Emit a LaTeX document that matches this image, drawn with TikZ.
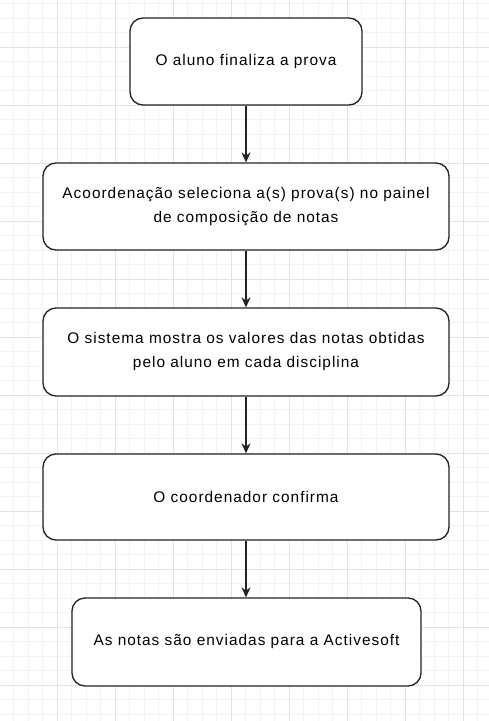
\documentclass[tikz,border=0pt]{standalone}
\usepackage{fontspec}
\setmainfont{Liberation Sans}[LetterSpace=6.5]
\usetikzlibrary{arrows.meta}
\definecolor{minorg}{HTML}{F3F3F3}
\definecolor{majorg}{HTML}{E3E3E3}
\definecolor{strokec}{HTML}{222222}
\tikzset{
  minorgrid/.style={draw=minorg, line width=0.8pt},
  majorgrid/.style={draw=majorg, line width=0.9pt},
  flowbox/.style={draw=strokec, line width=1.3pt, rounded corners=13pt, fill=white,
    align=center, inner sep=0pt, font={\fontsize{15.4}{24}\selectfont}},
  flowarrow/.style={draw=strokec, line width=1.3pt, -{Stealth[length=10pt,width=9pt]}}
}
\begin{document}
\begin{tikzpicture}[x=1pt,y=-1pt]
\useasboundingbox (0,0) rectangle (489,721);
\fill[white] (0,0) rectangle (489,721);
% grid
\foreach \i in {0,...,34} {
  \draw[minorgrid] ({-0.7+14.5*\i},0) -- ({-0.7+14.5*\i},721);
}
\foreach \i in {0,...,50} {
  \draw[minorgrid] (0,{3.8+14.5*\i}) -- (489,{3.8+14.5*\i});
}
\foreach \i in {0,...,8} {
  \draw[majorgrid] ({-0.7+58*\i},0) -- ({-0.7+58*\i},721);
}
\foreach \i in {0,...,12} {
  \draw[majorgrid] (0,{-10.7+58*\i}) -- (489,{-10.7+58*\i});
}
% boxes
\node[flowbox, minimum width=232pt, minimum height=87pt] (b1) at (246,61.5) {O aluno finaliza a prova};
\node[flowbox, minimum width=406pt, minimum height=87pt] (b2) at (246,206.5) {Acoordenação seleciona a(s) prova(s) no painel\\de composição de notas};
\node[flowbox, minimum width=406pt, minimum height=88pt] (b3) at (246,352) {O sistema mostra os valores das notas obtidas\\pelo aluno em cada disciplina};
\node[flowbox, minimum width=406pt, minimum height=86pt] (b4) at (246,497) {O coordenador confirma};
\node[flowbox, minimum width=349pt, minimum height=88pt] (b5) at (246.5,642) {As notas são enviadas para a Activesoft};
% arrows
\draw[flowarrow] (b1.south) -- (b2.north);
\draw[flowarrow] (b2.south) -- (b3.north);
\draw[flowarrow] (b3.south) -- (b4.north);
\draw[flowarrow] (b4.south) -- (b5.north -| b4.south);
\end{tikzpicture}
\end{document}
